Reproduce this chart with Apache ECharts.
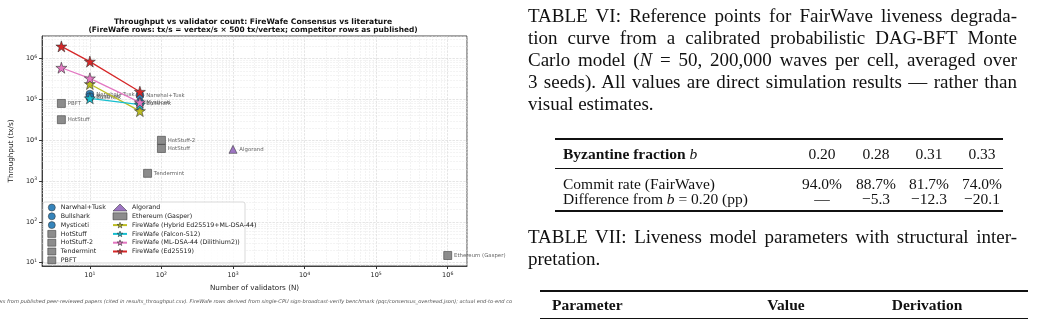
<!DOCTYPE html>
<html>
<head>
<meta charset="utf-8">
<script src="https://cdn.jsdelivr.net/npm/echarts@6/dist/echarts.min.js"></script>
<style>
  body { margin: 0; background: #fff; width: 1042px; height: 321px; overflow: hidden; position: relative; }
  #chart { position: absolute; left: 0; top: 0; width: 512px; height: 321px; }
  #paper { position: absolute; left: 0; top: 0; width: 1042px; height: 321px; font-family: 'Liberation Serif', 'Times New Roman', serif; color: #111; }
  .t { position: absolute; white-space: nowrap; }
  .cap { position: absolute; left: 528px; width: 489px; font-size: 19px; height: 22px; line-height: 22px; text-align: justify; text-align-last: justify; white-space: nowrap; }
  .cap.last { text-align: left; text-align-last: left; }
  .rule { position: absolute; background: #111; }
</style>
</head>
<body>
<div id="chart"></div>
<div id="paper"></div>
<script>
  // throughput points [validators, tx/s]
  const narwhalTusk = [[10, 135000], [50, 127000]]
  const bullshark = [[10, 112000], [50, 80000]]
  const mysticeti = [[10, 117000], [50, 84000]]
  const hotStuff = [[4, 32000], [100, 6300]]
  const hotStuff2 = [[100, 10000]]
  const tendermint = [[64, 1550]]
  const pbft = [[4, 80000]]
  const algorand = [[1000, 6000]]
  const ethereum = [[1000000, 15]]
  const fwHybrid = [[10, 240000], [50, 52000]]
  const fwFalcon = [[10, 107000], [50, 75000]]
  const fwMldsa = [[4, 600000], [10, 330000], [50, 85000]]
  const fwEd = [[4, 2000000], [10, 850000], [50, 155000]]

  // table VI
  const byzFractions = ['0.20', '0.28', '0.31', '0.33']
  const commitRates = ['94.0%', '88.7%', '81.7%', '74.0%']
  const commitDiffs = ['—', '−5.3', '−12.3', '−20.1']

  const xMin = 2.15, xMax = 1.86e6
  const yMin = 8.3, yMax = 3.6e6

  const FONT = "'DejaVu Sans', sans-serif"
  const STAR = 'path://M50,2 L61.2,36 L97,36 L68,57 L79,92 L50,71 L21,92 L32,57 L3,36 L38.8,36 Z'

  // minor gridlines at 2..9 x 10^k
  const minorsBetween = (lo, hi) => {
    const out = []
    for (let e = 0; e <= 6; e++) {
      for (let m = 2; m <= 9; m++) {
        const v = m * Math.pow(10, e)
        if (v > lo && v < hi) out.push(v)
      }
    }
    return out
  }

  const supLabel = {
    formatter: function (v) {
      const e = Math.log10(v)
      if (Math.abs(e - Math.round(e)) > 1e-6) return ''
      return '{b|10}{s|' + Math.round(e) + '}'
    },
    rich: {
      b: { fontSize: 6.5, lineHeight: 9, fontFamily: FONT, color: '#222' },
      s: { fontSize: 4.6, lineHeight: 5, verticalAlign: 'top', fontFamily: FONT, color: '#222' },
    },
    showMinLabel: false,
    showMaxLabel: false,
  }

  const dot = (name, data, symbol, color, size) => ({
    name: name,
    type: 'scatter',
    data: data,
    symbol: symbol,
    symbolSize: size,
    z: 2,
    itemStyle: { color: color, borderColor: '#333', borderWidth: 0.6, opacity: 0.9 },
    label: {
      show: true,
      position: 'right',
      distance: 2,
      formatter: '{a}',
      fontSize: 5.4,
      fontFamily: FONT,
      color: '#555',
    },
  })

  const fw = (name, data, color) => ({
    name: name,
    type: 'line',
    data: data,
    symbol: STAR,
    symbolSize: 11,
    z: 3,
    lineStyle: { color: color, width: 1.3 },
    itemStyle: { color: color, borderColor: '#333', borderWidth: 0.6 },
  })

  const legendText = { fontSize: 6.3, lineHeight: 8, color: '#222', fontFamily: FONT }

  const myChart = echarts.init(document.getElementById('chart'))

  // footnote is wider than the figure; it gets cut at both sides
  const ctx = document.createElement('canvas').getContext('2d')
  ctx.font = "italic 10px 'DejaVu Sans'"
  const notePre = 'Competitor rows '
  const noteSeen = 'from published peer-reviewed papers (cited in results_throughput.csv). FireWafe rows derived from single-CPU sign-broadcast-verify benchmark (pqc/consensus_overhead.json); actual end-to-end c'
  const noteFs = 10 * 503 / ctx.measureText(noteSeen).width
  const noteX = 7 - ctx.measureText(notePre).width * noteFs / 10
  const note = notePre + noteSeen + 'onsensus throughput will be lower.'

  const option = {
    animation: false,
    grid: { left: 39, top: 36, width: 428, height: 230, show: true, borderColor: '#333', borderWidth: 0.9 },
    graphic: [
      {
        type: 'text', x: 253, y: 21.8, z: 5,
        style: { text: 'Throughput vs validator count: FireWafe Consensus vs literature', align: 'center', verticalAlign: 'middle', fontSize: 7.6, fontWeight: 'bold', fontFamily: FONT, fill: '#111' },
      },
      {
        type: 'text', x: 253, y: 30.2, z: 5,
        style: { text: '(FireWafe rows: tx/s = vertex/s × 500 tx/vertex; competitor rows as published)', align: 'center', verticalAlign: 'middle', fontSize: 7.4, fontWeight: 'bold', fontFamily: FONT, fill: '#111' },
      },
      {
        type: 'text', x: noteX, y: 301.5, z: 5,
        style: { text: note, align: 'left', verticalAlign: 'middle', fontSize: noteFs, fontStyle: 'italic', fontFamily: FONT, fill: '#555' },
      },
      {
        type: 'rect', z: 3,
        shape: { x: 43, y: 202, width: 202, height: 61, r: 2 },
        style: { fill: 'rgba(255,255,255,0.85)', stroke: '#cfcfcf', lineWidth: 0.8 },
      },
    ],
    legend: [
      {
        data: ['Narwhal+Tusk', 'Bullshark', 'Mysticeti', 'HotStuff', 'HotStuff-2', 'Tendermint', 'PBFT'],
        orient: 'vertical', left: 47.5, top: 203.5, padding: 0, z: 4,
        itemWidth: 8, itemHeight: 7, itemGap: 0.8,
        itemStyle: { borderWidth: 0.6 },
        textStyle: legendText,
      },
      {
        data: ['Algorand', 'Ethereum (Gasper)', 'FireWafe (Hybrid Ed25519+ML-DSA-44)', 'FireWafe (Falcon-512)', 'FireWafe (ML-DSA-44 (Dilithium2))', 'FireWafe (Ed25519)'],
        orient: 'vertical', left: 112, top: 203.5, padding: 0, z: 4,
        itemWidth: 14, itemHeight: 7, itemGap: 0.8,
        itemStyle: { borderWidth: 0.6 },
        textStyle: legendText,
      },
    ],
    xAxis: {
      type: 'log', logBase: 10, min: xMin, max: xMax, splitNumber: 6,
      name: 'Number of validators (N)', nameLocation: 'middle', nameGap: 19,
      nameTextStyle: { fontSize: 7.2, color: '#222', fontFamily: FONT },
      axisLine: { show: true, onZero: false, lineStyle: { color: '#333', width: 0.9 } },
      axisTick: { show: true, length: 3, lineStyle: { color: '#333' } },
      axisLabel: Object.assign({ margin: 5 }, supLabel),
      splitLine: { show: true, lineStyle: { color: '#d4d4d4', type: 'dashed', width: 0.6 } },
    },
    yAxis: {
      type: 'log', logBase: 10, min: yMin, max: yMax, splitNumber: 6,
      name: 'Throughput (tx/s)', nameLocation: 'middle', nameGap: 24,
      nameTextStyle: { fontSize: 7.2, color: '#222', fontFamily: FONT },
      axisLine: { show: true, lineStyle: { color: '#333', width: 0.9 } },
      axisTick: { show: true, length: 3, lineStyle: { color: '#333' } },
      axisLabel: Object.assign({ margin: 5 }, supLabel),
      splitLine: { show: true, lineStyle: { color: '#d4d4d4', type: 'dashed', width: 0.6 } },
    },
    series: [
      {
        name: 'minor-grid',
        type: 'scatter',
        data: [],
        silent: true,
        z: 1,
        markLine: {
          silent: true,
          z: 1,
          symbol: ['none', 'none'],
          label: { show: false },
          animation: false,
          lineStyle: { color: '#e6e6e6', type: 'dashed', width: 0.5 },
          data: minorsBetween(xMin, xMax).map(v => ({ xAxis: v }))
            .concat(minorsBetween(yMin, yMax).map(v => ({ yAxis: v }))),
        },
      },
      dot('Narwhal+Tusk', narwhalTusk, 'circle', '#1f77b4', 8),
      dot('Bullshark', bullshark, 'circle', '#1f77b4', 8),
      dot('Mysticeti', mysticeti, 'circle', '#1f77b4', 8),
      dot('HotStuff', hotStuff, 'rect', '#7f7f7f', 8),
      dot('HotStuff-2', hotStuff2, 'rect', '#7f7f7f', 8),
      dot('Tendermint', tendermint, 'rect', '#7f7f7f', 8),
      dot('PBFT', pbft, 'rect', '#7f7f7f', 8),
      dot('Algorand', algorand, 'triangle', '#9467bd', 8),
      dot('Ethereum (Gasper)', ethereum, 'rect', '#7f7f7f', 8),
      fw('FireWafe (Hybrid Ed25519+ML-DSA-44)', fwHybrid, '#bcbd22'),
      fw('FireWafe (Falcon-512)', fwFalcon, '#17becf'),
      fw('FireWafe (ML-DSA-44 (Dilithium2))', fwMldsa, '#e377c2'),
      fw('FireWafe (Ed25519)', fwEd, '#d62728'),
    ],
  }

  option && myChart.setOption(option)

  // ---- right half: the paper text with the two tables ----
  const paper = document.getElementById('paper')
  const put = (html, cls, css) => {
    const d = document.createElement('div')
    d.className = cls
    d.innerHTML = html
    Object.assign(d.style, css)
    paper.appendChild(d)
    return d
  }
  const rule = (x, y, w, h) => put('', 'rule', { left: x + 'px', top: (y - h / 2) + 'px', width: w + 'px', height: h + 'px' })
  // text centred vertically on y
  const cell = (html, x, y, size, align) => {
    const d = put(html, 't', { top: (y - 10) + 'px', height: '20px', lineHeight: '20px', fontSize: size + 'px', left: x + 'px' })
    if (align === 'center') d.style.transform = 'translateX(-50%)'
    return d
  }

  const captionVI = [
    'TABLE VI: Reference points for FairWave liveness degrada-',
    'tion curve from a calibrated probabilistic DAG-BFT Monte',
    'Carlo model (<i>N</i> = 50, 200,000 waves per cell, averaged over',
    '3 seeds). All values are direct simulation results — rather than',
    'visual estimates.',
  ]
  captionVI.forEach((line, i) => {
    put(line, i === captionVI.length - 1 ? 'cap last' : 'cap', { top: (5 + i * 22) + 'px' })
  })

  const colX = [822, 876, 929, 982]
  const TS = 15.5
  rule(555, 139, 448, 1.6)
  cell('<b>Byzantine fraction</b> <i>b</i>', 563, 154, TS)
  byzFractions.forEach((v, i) => cell(v, colX[i], 154, TS, 'center'))
  rule(555, 168, 448, 0.8)
  cell('Commit rate (FairWave)', 563, 184, TS)
  commitRates.forEach((v, i) => cell(v, colX[i], 184, TS, 'center'))
  cell('Difference from <i>b</i> = 0.20 (pp)', 563, 199, TS)
  commitDiffs.forEach((v, i) => cell(v, colX[i], 199, TS, 'center'))
  rule(555, 211, 448, 1.6)

  put('TABLE VII: Liveness model parameters with structural inter-', 'cap', { top: (237 - 11) + 'px' })
  put('pretation.', 'cap last', { top: (259 - 11) + 'px' })

  rule(540, 291, 488, 1.6)
  cell('<b>Parameter</b>', 552, 305, TS)
  cell('<b>Value</b>', 786, 305, TS, 'center')
  cell('<b>Derivation</b>', 927, 305, TS, 'center')
  rule(540, 318, 488, 0.8)
</script>
</body>
</html>
